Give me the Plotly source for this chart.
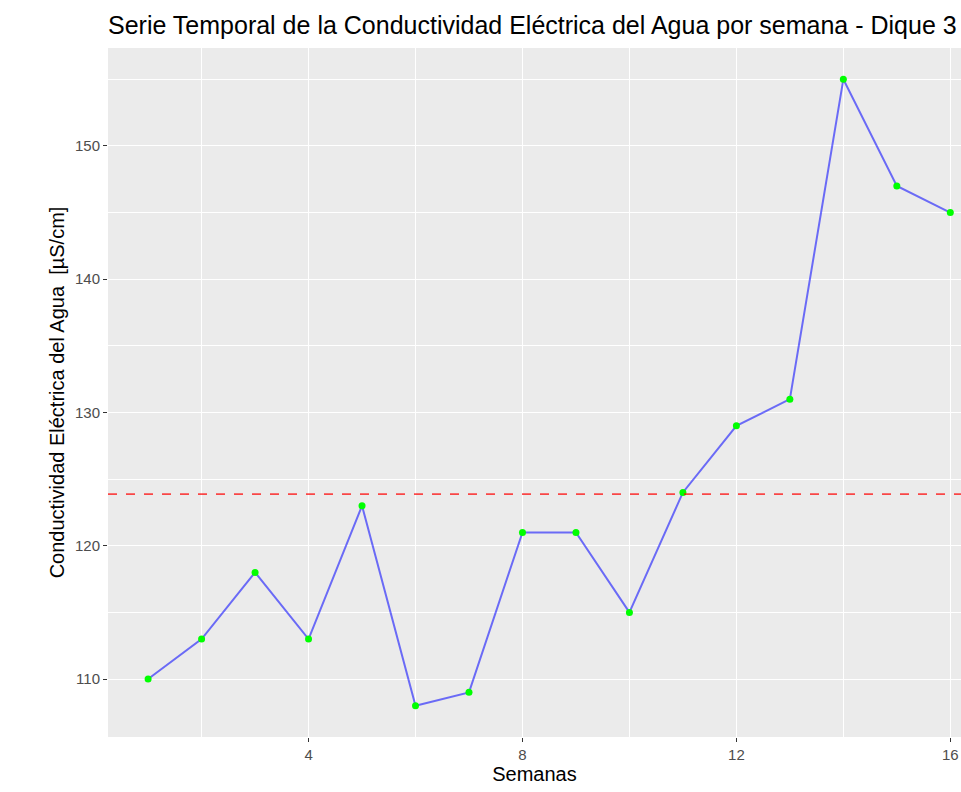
import numpy as np
import plotly.graph_objects as go

# Datos semanales
semanas = list(range(1, 17))
conductividad = [110, 113, 118, 113, 123, 108, 109, 121, 121, 115, 124, 129, 131, 155, 147, 145]
media = np.mean(conductividad)

x_ticks = [4, 8, 12, 16]
x_minor = [2, 6, 10, 14]
y_ticks = [110, 120, 130, 140, 150]
y_minor = [105, 115, 125, 135, 145, 155]

W, H = 961, 792

fig = go.Figure()

fig.add_trace(go.Scatter(x=semanas, y=conductividad,
                         mode='lines',
                         line=dict(color='rgba(0,0,255,0.55)', width=2),
                         showlegend=False))

fig.add_trace(go.Scatter(x=semanas, y=conductividad,
                         mode='markers',
                         marker=dict(color='#00FF00', size=7),
                         showlegend=False, cliponaxis=False))

fig.add_hline(y=media, line=dict(color='rgba(255,0,0,0.7)', width=1.6, dash='dash'))

fig.update_layout(
    width=W, height=H,
    margin=dict(l=108, r=0, t=48, b=55),
    paper_bgcolor='white',
    plot_bgcolor='#EBEBEB',
    font=dict(family='Liberation Sans, Arial, sans-serif'),
    title=dict(text='Serie Temporal de la Conductividad Eléctrica del Agua por semana - Dique 3',
               x=108 / W, xanchor='left', y=1 - 25 / H, yanchor='middle',
               font=dict(size=25, color='black')),
)

fig.update_xaxes(range=[0.25, 16.2],
                 tickvals=x_ticks,
                 ticks='outside', ticklen=4, tickcolor='#333333',
                 tickfont=dict(size=15, color='#4D4D4D'),
                 showgrid=True, gridcolor='white', gridwidth=1.2,
                 minor=dict(tickvals=x_minor, showgrid=True, gridcolor='white', gridwidth=0.6),
                 zeroline=False, showline=False, automargin=False,
                 title=dict(text='Semanas', font=dict(size=20, color='black'), standoff=4))

fig.update_yaxes(range=[105.65, 157.35],
                 tickvals=y_ticks,
                 ticks='outside', ticklen=4, tickcolor='#333333',
                 tickfont=dict(size=15, color='#4D4D4D'),
                 showgrid=True, gridcolor='white', gridwidth=1.2,
                 minor=dict(tickvals=y_minor, showgrid=True, gridcolor='white', gridwidth=0.6),
                 zeroline=False, showline=False, automargin=False,
                 title=dict(text='Conductividad Eléctrica del Agua  [µS/cm]',
                            font=dict(size=20, color='black'), standoff=4))

# quitar el margen por defecto del body para que la figura ocupe toda la ventana
fig.write_html("out.html",
               config={'displayModeBar': False},
               post_script="document.body.style.margin='0';document.body.style.overflow='hidden';")
